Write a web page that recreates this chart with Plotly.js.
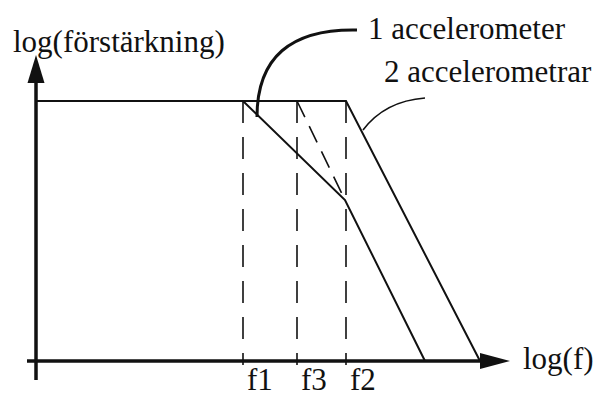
<!DOCTYPE html>
<html>
<head>
<meta charset="utf-8">
<script src="https://cdn.plot.ly/plotly-3.0.1.min.js"></script>
<style>html,body{margin:0;padding:0;background:#fff;}#chart{width:594px;height:399px;}</style>
</head>
<body>
<div id="chart"></div>
<script>
// Schematic values (log f on x, log gain on y)
const tickLabels = ['f1', 'f3', 'f2'];
const tickPos = [2.07, 2.61, 3.10];
const gainFlat = 2.60;
const oneAccX = [0, 2.07, 3.09, 3.89];
const oneAccY = [2.60, 2.60, 1.61, 0];
const twoAccX = [0, 3.10, 4.44];
const twoAccY = [2.60, 2.60, 0];
const dashX = [2.61, 3.09];
const dashY = [2.60, 1.61];
const yAxisEnds = [-0.19, 3.06];
const xAxisEnds = [-0.09, 4.74];
const seriesLabels = ['1 accelerometer', '2 accelerometrar'];
const axisLabels = ['log(förstärkning)', 'log(f)'];

const FONT = {family: 'Liberation Serif, Times New Roman, serif', size: 31, color: '#111'};

const traces = [];
// vertical dashed guide lines
tickPos.forEach(function (p) {
  traces.push({x: [p, p], y: [gainFlat, -0.04], mode: 'lines', hoverinfo: 'skip',
    line: {color: '#111', width: 1.6, dash: '22px,14px'}});
});
traces.push({x: dashX, y: dashY, mode: 'lines', hoverinfo: 'skip',
  line: {color: '#111', width: 1.6, dash: '18px,10px'}});
traces.push({x: oneAccX, y: oneAccY, mode: 'lines', hoverinfo: 'skip',
  line: {color: '#111', width: 2}});
traces.push({x: twoAccX, y: twoAccY, mode: 'lines', hoverinfo: 'skip',
  line: {color: '#111', width: 2}});
// axes
traces.push({x: [0, 0], y: [yAxisEnds[0], yAxisEnds[1] - 0.2], mode: 'lines', hoverinfo: 'skip',
  line: {color: '#111', width: 3.5}});
traces.push({x: [xAxisEnds[0], xAxisEnds[1] - 0.2], y: [0, 0], mode: 'lines', hoverinfo: 'skip',
  line: {color: '#111', width: 3.5}});

const shapes = [
  // arrowheads
  {type: 'path', xref: 'x', yref: 'y', fillcolor: '#111', line: {width: 0},
    path: 'M0,' + yAxisEnds[1] + ' L-0.085,' + (yAxisEnds[1] - 0.28) + ' L0.085,' + (yAxisEnds[1] - 0.28) + ' Z'},
  {type: 'path', xref: 'x', yref: 'y', fillcolor: '#111', line: {width: 0},
    path: 'M' + xAxisEnds[1] + ',0 L' + (xAxisEnds[1] - 0.30) + ',0.08 L' + (xAxisEnds[1] - 0.30) + ',-0.08 Z'},
  // leader curves
  {type: 'path', xref: 'x', yref: 'y', line: {color: '#111', width: 3},
    path: 'M3.21,3.31 Q2.21,3.33 2.21,2.44'},
  {type: 'path', xref: 'x', yref: 'y', line: {color: '#111', width: 1.6},
    path: 'M3.89,2.63 Q3.49,2.60 3.27,2.31'}
];

const annotations = [
  {x: -0.25, y: 3.20, xref: 'x', yref: 'y', text: axisLabels[0], showarrow: false, xanchor: 'left', yanchor: 'middle', font: FONT},
  {x: 4.85, y: 0.03, xref: 'x', yref: 'y', text: axisLabels[1], showarrow: false, xanchor: 'left', yanchor: 'middle', font: FONT},
  {x: 3.30, y: 3.33, xref: 'x', yref: 'y', text: seriesLabels[0], showarrow: false, xanchor: 'left', yanchor: 'middle', font: FONT},
  {x: 3.46, y: 2.90, xref: 'x', yref: 'y', text: seriesLabels[1], showarrow: false, xanchor: 'left', yanchor: 'middle', font: FONT}
];
tickLabels.forEach(function (t, i) {
  annotations.push({x: tickPos[i] + 0.02, y: -0.375, xref: 'x', yref: 'y', text: t, showarrow: false,
    xanchor: 'left', yanchor: 'bottom', font: FONT});
});

const layout = {
  width: 594, height: 399,
  margin: {l: 0, r: 0, t: 0, b: 0},
  paper_bgcolor: '#fff', plot_bgcolor: '#fff',
  showlegend: false,
  xaxis: {range: [-0.36, 5.58], visible: false, fixedrange: true},
  yaxis: {range: [-0.38, 3.61], visible: false, fixedrange: true},
  shapes: shapes,
  annotations: annotations
};

Plotly.newPlot('chart', traces, layout, {staticPlot: true, displayModeBar: false});
</script>
</body>
</html>
